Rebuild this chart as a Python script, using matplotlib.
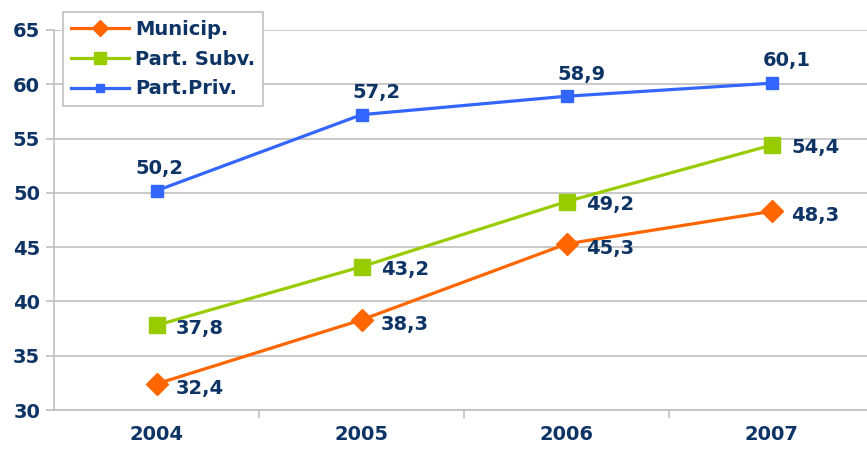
import matplotlib.pyplot as plt

years = ['2004', '2005', '2006', '2007']
municip = [32.4, 38.3, 45.3, 48.3]
subv = [37.8, 43.2, 49.2, 54.4]
priv = [50.2, 57.2, 58.9, 60.1]

navy = '#0e3466'
grid_c = '#c0c0c0'
plt.rcParams['font.family'] = ['DejaVu Sans']
plt.rcParams['font.weight'] = 'bold'

fig = plt.figure(figsize=(8.67, 4.5), dpi=100)
ax = fig.add_axes([54 / 867, 1 - 410 / 450, 1 - 54 / 867, 380 / 450])

x = range(len(years))
ax.plot(x, municip, color='#ff6600', lw=2.3, marker='D', ms=11, label='Municip.', zorder=3)
ax.plot(x, subv, color='#99cc00', lw=2.3, marker='s', ms=12, label='Part. Subv.', zorder=3)
ax.plot(x, priv, color='#3366ff', lw=2.3, marker='s', ms=8, label='Part.Priv.', zorder=3)

def fmt(v):
    return f'{v:.1f}'.replace('.', ',')

for i, v in enumerate(municip):
    ax.annotate(fmt(v), (i, v), xytext=(14, -3), textcoords='offset points',
                ha='left', va='center', fontsize=14, color=navy, fontweight='bold')
for i, v in enumerate(subv):
    ax.annotate(fmt(v), (i, v), xytext=(14, -2), textcoords='offset points',
                ha='left', va='center', fontsize=14, color=navy, fontweight='bold')
for i, v in enumerate(priv):
    dx = 2 if i == 0 else 11
    ax.annotate(fmt(v), (i, v), xytext=(dx, 16), textcoords='offset points',
                ha='center', va='center', fontsize=14, color=navy, fontweight='bold')

ax.set_xlim(-0.5, 3.465)
ax.set_ylim(30, 65)
ax.set_yticks(range(30, 66, 5))
ax.set_xticks(list(x))
ax.set_xticklabels(years)
ax.set_xticks([0.5, 1.5, 2.5], minor=True)
ax.tick_params(axis='x', which='major', length=0, pad=11, labelsize=14, labelcolor=navy)
ax.tick_params(axis='x', which='minor', length=6, color=grid_c, width=1.2)
ax.tick_params(axis='y', length=6, color=grid_c, width=1.2, labelsize=14, labelcolor=navy, pad=4)
for lab in ax.get_xticklabels() + ax.get_yticklabels():
    lab.set_fontweight('bold')

ax.grid(axis='y', color=grid_c, lw=1.2)
ax.set_axisbelow(True)
for s in ['top', 'right']:
    ax.spines[s].set_visible(False)
for s in ['left', 'bottom']:
    ax.spines[s].set_color(grid_c)
    ax.spines[s].set_linewidth(1.2)

leg = ax.legend(loc='upper left', bbox_to_anchor=(9 / 813, 1.047), fontsize=14, frameon=True,
                fancybox=False, edgecolor=grid_c, handlelength=3, borderpad=0.4,
                labelspacing=0.55, handletextpad=0.3, markerscale=0.7, borderaxespad=0,
                framealpha=1)
leg.get_frame().set_linewidth(1.2)
for t in leg.get_texts():
    t.set_color(navy)
    t.set_fontweight('bold')

fig.savefig('out.png', dpi=100)
